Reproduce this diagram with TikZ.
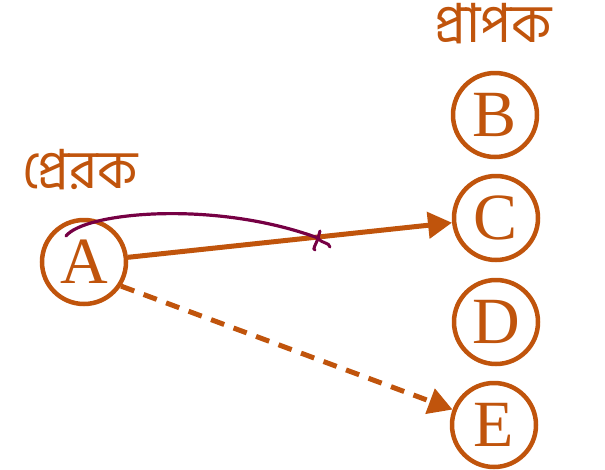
\documentclass[tikz,border=0pt]{standalone}
\usepackage{fontspec}
\setmainfont{Liberation Serif}
\newfontfamily\bnfont[Script=Bengali]{Hind Siliguri}
\usepackage{tikz}
\usetikzlibrary{arrows.meta,positioning,calc}
\definecolor{rust}{RGB}{192,84,12}
\definecolor{plum}{RGB}{118,0,68}
\tikzstyle{party} = [draw=rust, circle, line width=4.5pt, minimum size=84pt, inner sep=0pt, text=rust, font=\fontsize{66}{66}\selectfont]
\tikzstyle{role} = [text=rust, font=\bnfont\fontsize{54}{54}\selectfont]
\tikzstyle{line} = [draw=rust, line width=5pt, -{Triangle[length=24pt,width=26pt]}]

\begin{document}
\begin{tikzpicture}[x=1pt, y=-1pt]
    \useasboundingbox (0,0) rectangle (605,469);
    \node [party] (A) at (84,262) {A};
    \node [party] (B) at (495,115) {B};
    \node [party] (C) at (496,218) {C};
    \node [party] (D) at (496,322) {D};
    \node [party] (E) at (494,425) {E};
    \node [role] (recv) at (493,24) {প্রাপক};
    \node [role] (send) at (80,170) {প্রেরক};

    \path [line] (A) -- (C);
    \path [line, dash pattern=on 14pt off 10pt] (A.-33) -- (E);

    % crossing-out stroke
    \coordinate (pstart) at (66,236);
    \coordinate (pend) at (318,238);
    \draw [plum, line width=3.2pt, line cap=round] (pstart) .. controls (85,212) and (215,200) .. (pend);
    \draw [plum, line width=3pt, line cap=round] (pend) -- (320,231) (pend) .. controls (316,245) and (312,249) .. (315,250) (pend) .. controls (322,244) and (329,242) .. (330,247);
\end{tikzpicture}
\end{document}
